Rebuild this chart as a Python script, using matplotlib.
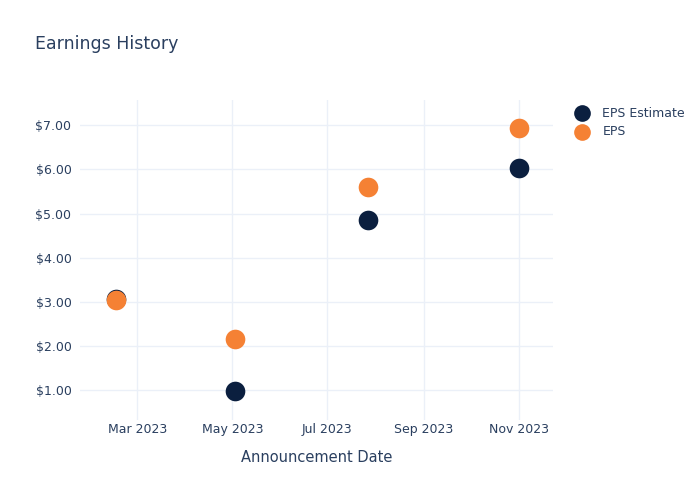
import pandas as pd
import matplotlib.pyplot as plt
import matplotlib.dates as mdates
from matplotlib.ticker import FuncFormatter

# data
dates = pd.to_datetime(["2023-02-15", "2023-05-03", "2023-07-27", "2023-11-01"])
eps_estimate = [3.07, 0.98, 4.85, 6.03]
eps_actual = [3.04, 2.16, 5.60, 6.93]

text_color = "#2a3f5f"
navy = "#0b1f3f"
orange = "#f58134"

fig = plt.figure(figsize=(7, 5), dpi=100)
ax = fig.add_axes([0.114, 0.16, 0.676, 0.64])

ax.scatter(dates, eps_estimate, s=200, color=navy, label="EPS Estimate", zorder=3, linewidths=0)
ax.scatter(dates, eps_actual, s=200, color=orange, label="EPS", zorder=4, linewidths=0)

ax.set_xlim(pd.Timestamp("2023-01-23"), pd.Timestamp("2023-11-23"))
ax.set_ylim(0.33, 7.57)

ax.xaxis.set_major_locator(mdates.MonthLocator(bymonth=[3, 5, 7, 9, 11]))
ax.xaxis.set_major_formatter(mdates.DateFormatter("%b %Y"))
ax.set_yticks([1, 2, 3, 4, 5, 6, 7])
ax.yaxis.set_major_formatter(FuncFormatter(lambda v, p: "${:.2f}".format(v)))

ax.grid(True, color="#ebf0f8", linewidth=1)
ax.set_axisbelow(True)
for s in ax.spines.values():
    s.set_visible(False)
ax.tick_params(length=0, labelsize=9, colors=text_color)
ax.tick_params(axis="x", pad=2)
ax.tick_params(axis="y", pad=6)

ax.set_xlabel("Announcement Date", fontsize=10.5, color=text_color, labelpad=10)
fig.text(0.05, 0.912, "Earnings History", fontsize=12.5, color=text_color, va="center")

ax.legend(loc="upper left", bbox_to_anchor=(1.025, 0.995), frameon=False, fontsize=9,
          labelcolor=text_color, handletextpad=0.6, borderaxespad=0, labelspacing=0.45,
          markerscale=0.85)

fig.savefig("out.png", dpi=100)
